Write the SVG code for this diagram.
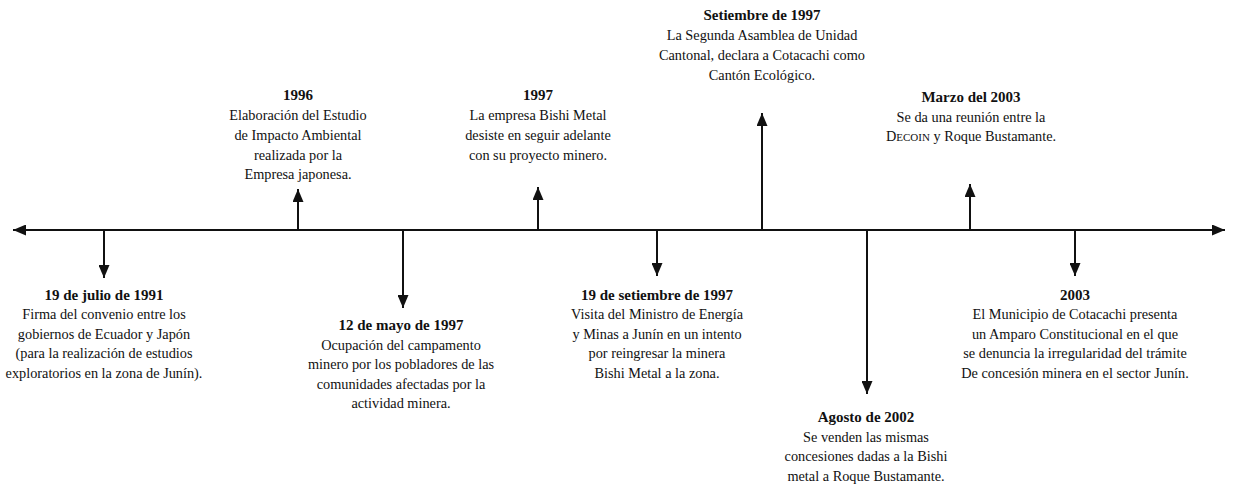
<svg xmlns="http://www.w3.org/2000/svg" width="1235" height="497" viewBox="0 0 1235 497">
<style>
.t{font-family:"Liberation Serif","Times New Roman",serif;font-size:14.3px;fill:#111;text-anchor:middle}
.b{font-weight:bold;font-size:15px}
.ln{stroke:#111;stroke-width:2;fill:none}
</style>
<defs>
<marker id="ah" markerUnits="userSpaceOnUse" markerWidth="14" markerHeight="11" refX="13" refY="5.5" orient="auto">
<path d="M0,0 L13,5.5 L0,11 z" fill="#111"/>
</marker>
</defs>
<rect width="1235" height="497" fill="#fff"/>
<g id="connectors">
<line class="ln" x1="1214" y1="230" x2="13" y2="230" marker-end="url(#ah)"/>
<line class="ln" x1="20" y1="230" x2="1225" y2="230" marker-end="url(#ah)"/>
<line class="ln" x1="104" y1="230" x2="104" y2="278" marker-end="url(#ah)"/>
<line class="ln" x1="298" y1="230" x2="298" y2="189" marker-end="url(#ah)"/>
<line class="ln" x1="403" y1="230" x2="403" y2="308" marker-end="url(#ah)"/>
<line class="ln" x1="538" y1="230" x2="538" y2="187" marker-end="url(#ah)"/>
<line class="ln" x1="657" y1="230" x2="657" y2="276" marker-end="url(#ah)"/>
<line class="ln" x1="762" y1="230" x2="762" y2="113" marker-end="url(#ah)"/>
<line class="ln" x1="867" y1="230" x2="867" y2="394" marker-end="url(#ah)"/>
<line class="ln" x1="970" y1="230" x2="970" y2="184" marker-end="url(#ah)"/>
<line class="ln" x1="1075" y1="230" x2="1075" y2="276" marker-end="url(#ah)"/>
</g>
<g id="n-sep1997">
<text class="t b" x="762" y="20">Setiembre de 1997</text>
<text class="t" x="762" y="40">La Segunda Asamblea de Unidad</text>
<text class="t" x="762" y="60">Cantonal, declara a Cotacachi como</text>
<text class="t" x="762" y="80">Cantón Ecológico.</text>
</g>
<g id="n-1996">
<text class="t b" x="298" y="100">1996</text>
<text class="t" x="298" y="120">Elaboración del Estudio</text>
<text class="t" x="298" y="140">de Impacto Ambiental</text>
<text class="t" x="298" y="160">realizada por  la</text>
<text class="t" x="298" y="179">Empresa japonesa.</text>
</g>
<g id="n-1997">
<text class="t b" x="538" y="100">1997</text>
<text class="t" x="538" y="120">La empresa Bishi Metal</text>
<text class="t" x="538" y="140">desiste en seguir adelante</text>
<text class="t" x="538" y="160">con su proyecto minero.</text>
</g>
<g id="n-mar2003">
<text class="t b" x="971" y="102">Marzo del 2003</text>
<text class="t" x="971" y="122">Se da una reunión entre la</text>
<text class="t" x="971" y="141">D<tspan font-size="11">ECOIN</tspan> y Roque Bustamante.</text>
</g>
<g id="n-jul1991">
<text class="t b" x="104" y="300">19 de julio de 1991</text>
<text class="t" x="104" y="319">Firma del convenio entre los</text>
<text class="t" x="104" y="338.5">gobiernos de Ecuador y Japón</text>
<text class="t" x="104" y="358">(para la realización de estudios</text>
<text class="t" x="104" y="377.5">exploratorios en la zona de Junín).</text>
</g>
<g id="n-may1997">
<text class="t b" x="401" y="330">12 de mayo de 1997</text>
<text class="t" x="401" y="349.5">Ocupación del campamento</text>
<text class="t" x="401" y="369">minero por  los pobladores de las</text>
<text class="t" x="401" y="388.5">comunidades afectadas por la</text>
<text class="t" x="401" y="408">actividad minera.</text>
</g>
<g id="n-sep19-1997">
<text class="t b" x="657" y="300">19 de setiembre de 1997</text>
<text class="t" x="657" y="319">Visita del Ministro de Energía</text>
<text class="t" x="657" y="338.5">y Minas a Junín en un intento</text>
<text class="t" x="657" y="358">por reingresar la minera</text>
<text class="t" x="657" y="377.5">Bishi Metal a la zona.</text>
</g>
<g id="n-ago2002">
<text class="t b" x="866" y="422">Agosto de 2002</text>
<text class="t" x="866" y="441.5">Se venden las mismas</text>
<text class="t" x="866" y="461">concesiones dadas a la Bishi</text>
<text class="t" x="866" y="480.5">metal a Roque Bustamante.</text>
</g>
<g id="n-2003">
<text class="t b" x="1075" y="300">2003</text>
<text class="t" x="1075" y="319">El Municipio de Cotacachi presenta</text>
<text class="t" x="1075" y="338.5">un Amparo Constitucional en el que</text>
<text class="t" x="1075" y="358">se denuncia la irregularidad del trámite</text>
<text class="t" x="1075" y="377.5">De concesión minera en el sector Junín.</text>
</g>
</svg>
